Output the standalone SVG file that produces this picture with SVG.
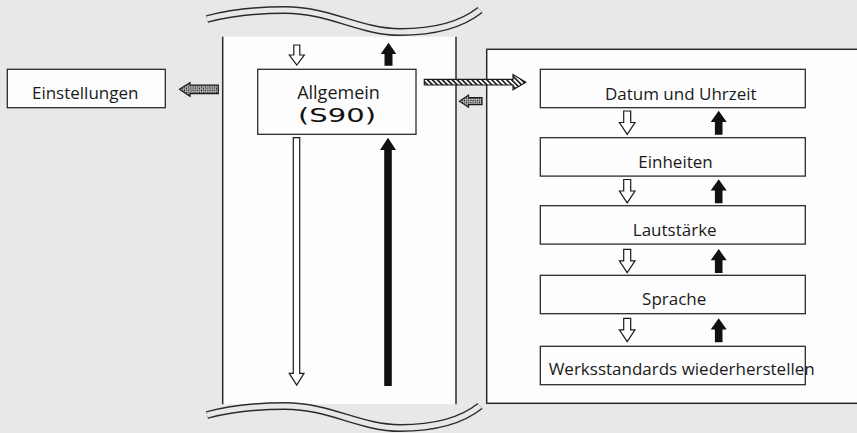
<svg xmlns="http://www.w3.org/2000/svg" xmlns:xlink="http://www.w3.org/1999/xlink" width="857" height="433" viewBox="0 0 857 433">
<style>
.bg{fill:#e8e8e8}
.panel{fill:#fdfdfd}
.edge{stroke:#2b2b2b;stroke-width:1.5;fill:none}
.box{fill:#fdfdfd;stroke:#2b2b2b;stroke-width:1.3}
.lbl{font-family:"Open Sans","Liberation Sans",sans-serif;font-size:17px;fill:#1a1a1a;text-anchor:middle}
.code{font-family:"DejaVu Sans","Liberation Sans",sans-serif;font-size:20px;fill:#111;text-anchor:middle}
.wout{stroke:#2b2b2b;stroke-width:8;fill:none}
.win{stroke:#e8e8e8;stroke-width:5;fill:none}
.wa{fill:#fff;stroke:#1a1a1a;stroke-width:1.2}
.ba{fill:#111}
.chk{fill:url(#checker);stroke:#1a1a1a;stroke-width:1.2}
.hat{fill:url(#hatch);stroke:#1a1a1a;stroke-width:1.2}
</style>
<defs>
<pattern id="checker" patternUnits="userSpaceOnUse" width="3" height="3" patternTransform="rotate(45)">
<rect width="3" height="3" fill="#fff"/>
<rect width="1.5" height="1.5" fill="#111"/>
<rect x="1.5" y="1.5" width="1.5" height="1.5" fill="#111"/>
</pattern>
<pattern id="hatch" patternUnits="userSpaceOnUse" width="3.5" height="3.5" patternTransform="rotate(-45)">
<rect width="3.5" height="3.5" fill="#fff"/>
<rect width="1.6" height="3.5" fill="#111"/>
</pattern>
<path id="wd" d="M-3.5,0 H3.5 V11.5 H7.8 L0,23.3 L-7.8,11.5 H-3.5 Z"/>
<path id="bu" d="M0,0 L8,11.3 H3.8 V24 H-3.8 V11.3 H-8 Z"/>
<path id="wave" d="M207,19 C230,13 260,10 285,10 C330,10 360,32 400,32 C440,32 465,22 480,10"/>
</defs>
<rect class="bg" x="0" y="0" width="857" height="433"/>
<g id="center-panel">
<rect class="panel" x="222.7" y="36.7" width="233.3" height="367.5"/>
<line class="edge" x1="222.7" y1="36.7" x2="222.7" y2="404.2"/>
<line class="edge" x1="456" y1="36.7" x2="456" y2="404.2"/>
</g>
<g id="break-top">
<use xlink:href="#wave" class="wout"/>
<use xlink:href="#wave" class="win"/>
</g>
<g id="break-bottom" transform="translate(0,396)">
<use xlink:href="#wave" class="wout"/>
<use xlink:href="#wave" class="win"/>
</g>
<g id="right-panel">
<rect x="486.7" y="49.3" width="380" height="354" fill="#fdfdfd" stroke="#2b2b2b" stroke-width="1.5"/>
</g>
<g id="einstellungen">
<rect class="box" x="7.3" y="69.3" width="158" height="38.4"/>
<text class="lbl" x="85.2" y="99.3">Einstellungen</text>
</g>
<g id="allgemein">
<rect class="box" x="257.7" y="69.3" width="158.3" height="65"/>
<text class="lbl" x="338.5" y="99.3" style="font-size:18px">Allgemein</text>
<text class="code" x="337" y="121.7" textLength="78" lengthAdjust="spacingAndGlyphs">(S90)</text>
</g>
<g id="datum">
<rect class="box" x="540.3" y="69.3" width="265" height="38.4"/>
<text class="lbl" x="680.8" y="100">Datum und Uhrzeit</text>
</g>
<g id="einheiten">
<rect class="box" x="540.3" y="137.7" width="265" height="38.4"/>
<text class="lbl" x="675.5" y="168.3">Einheiten</text>
</g>
<g id="lautstaerke">
<rect class="box" x="540.3" y="205.7" width="265" height="38.4"/>
<text class="lbl" x="674.7" y="235.7">Lautstärke</text>
</g>
<g id="sprache">
<rect class="box" x="540.3" y="275.3" width="265" height="38.4"/>
<text class="lbl" x="674.2" y="305">Sprache</text>
</g>
<g id="werksstandards">
<rect class="box" x="540.3" y="346.3" width="265" height="38.4"/>
<text class="lbl" x="681.7" y="375">Werksstandards wiederherstellen</text>
</g>
<g id="connectors">
<polygon class="wa" points="293.8,45 299.8,45 299.8,55 304.3,55 296.8,65 289.3,55 293.8,55"/>
<polygon class="ba" points="388.5,42.7 396.3,54 392.5,54 392.5,65.7 384.5,65.7 384.5,54 380.7,54"/>
<polygon class="wa" points="293.3,137.7 299.7,137.7 299.7,373.3 304,373.3 296.7,385 289.3,373.3 293.3,373.3"/>
<polygon class="ba" points="388,137.7 396,150 391.8,150 391.8,386 384.2,386 384.2,150 380,150"/>
<polygon class="chk" points="179.5,89.3 190,82.5 190,85.2 218.3,85.2 218.3,93.6 190,93.6 190,96.3"/>
<polygon class="chk" points="459.5,101.2 468.5,95.2 468.5,97.7 482,97.7 482,104.7 468.5,104.7 468.5,107.2"/>
<polygon class="hat" points="424.3,79.3 513,79.3 513,74.5 525.8,82.2 513,89.8 513,85 424.3,85"/>
<use xlink:href="#wd" class="wa" x="627.2" y="111"/>
<use xlink:href="#bu" class="ba" x="718.7" y="110.7"/>
<use xlink:href="#wd" class="wa" x="627.2" y="179.5"/>
<use xlink:href="#bu" class="ba" x="718.7" y="179.2"/>
<use xlink:href="#wd" class="wa" x="627.2" y="249.3"/>
<use xlink:href="#bu" class="ba" x="718.7" y="249"/>
<use xlink:href="#wd" class="wa" x="627.2" y="318.3"/>
<use xlink:href="#bu" class="ba" x="718.7" y="318.3"/>
</g>
</svg>
